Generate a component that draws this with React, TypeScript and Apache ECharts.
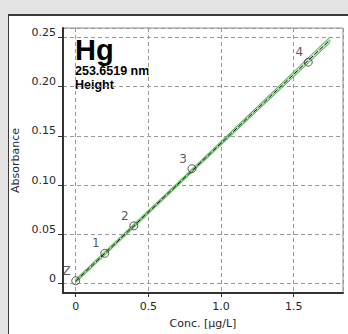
import React, { useEffect, useRef } from "react";
import * as echarts from "echarts";

const concentrations = [0, 0.2, 0.4, 0.8, 1.6];
const absorbances = [0.0027, 0.0306, 0.0585, 0.1166, 0.2248];
const pointLabels = ["Z", "1", "2", "3", "4"];

const fitX = [0, 1.75];
const fitY = [0.0025, 0.2475];

const bandX = [0, 0.85, 1.75];
const upperY = [0.0040, 0.1228, 0.2505];
const lowerY = [0.0010, 0.1203, 0.2447];

const xTicks = [0, 0.5, 1.0, 1.5];
const yTicks = [0, 0.05, 0.1, 0.15, 0.2, 0.25];

const element = "Hg";
const wavelength = "253.6519 nm";
const mode = "Height";

const FONT = "'DejaVu Sans', Verdana, sans-serif";

export default function App() {
  const ref = useRef<HTMLDivElement>(null);

  useEffect(() => {
    if (!ref.current) return;
    const chart = echarts.init(ref.current, undefined, { renderer: "svg" });
    const pts = concentrations.map((c, i) => ({ value: [c, absorbances[i]], name: pointLabels[i] }));
    const fit = fitX.map((x, i) => [x, fitY[i]]);
    const upper = bandX.map((x, i) => [x, upperY[i]]);
    const lower = bandX.map((x, i) => [x, lowerY[i]]);

    chart.setOption({
      animation: false,
      backgroundColor: "transparent",
      grid: {
        left: 63,
        top: 28,
        right: 5,
        bottom: 39,
        show: true,
        borderColor: "#8c8c8c",
        borderWidth: 1,
        backgroundColor: "transparent",
      },
      xAxis: {
        type: "value",
        min: -0.0874,
        max: 1.839,
        splitNumber: 4,
        name: "Conc. [µg/L]",
        nameLocation: "middle",
        nameGap: 25,
        nameTextStyle: { fontFamily: FONT, fontSize: 11, color: "#262630" },
        axisLine: { show: true, onZero: false, lineStyle: { color: "#333", width: 2 } },
        axisTick: { show: true, length: 4, lineStyle: { color: "#333" } },
        axisLabel: {
          showMinLabel: false,
          showMaxLabel: false,
          margin: 8,
          fontFamily: FONT,
          fontSize: 11,
          color: "#262630",
          formatter: (v: number) => {
            const t = xTicks.find((k) => Math.abs(k - v) < 1e-9);
            if (t === undefined) return "";
            return t === 0 ? "0" : t.toFixed(1);
          },
        },
        splitLine: { show: true, lineStyle: { color: "#9a9a9a", type: [4, 3], width: 1 } },
      },
      yAxis: {
        type: "value",
        min: -0.0097,
        max: 0.2595,
        splitNumber: 5,
        name: "Absorbance",
        nameLocation: "middle",
        nameGap: 38,
        nameTextStyle: { fontFamily: FONT, fontSize: 11, color: "#262630" },
        axisLine: { show: true, onZero: false, lineStyle: { color: "#333", width: 2 } },
        axisTick: { show: true, length: 5, lineStyle: { color: "#333" } },
        axisLabel: {
          showMinLabel: false,
          showMaxLabel: false,
          margin: 7,
          fontFamily: FONT,
          fontSize: 11,
          color: "#262630",
          verticalAlign: "bottom",
          lineHeight: 10,
          formatter: (v: number) => {
            const t = yTicks.find((k) => Math.abs(k - v) < 1e-9);
            if (t === undefined) return "";
            return t === 0 ? "0" : t.toFixed(2);
          },
        },
        splitLine: { show: true, lineStyle: { color: "#9a9a9a", type: [4, 3], width: 1 } },
      },
      graphic: [
        {
          type: "text",
          x: 75,
          y: 49.5,
          style: {
            text: element,
            fontFamily: "'Liberation Sans Narrow', 'Liberation Sans', Arial, sans-serif",
            fontWeight: "bold",
            fontSize: 29,
            fill: "#000",
            verticalAlign: "middle",
          },
        },
        {
          type: "text",
          x: 75,
          y: 71,
          style: {
            text: wavelength,
            fontFamily: "'Liberation Sans', Arial, sans-serif",
            fontWeight: "bold",
            fontSize: 12.5,
            fill: "#000",
            verticalAlign: "middle",
          },
        },
        {
          type: "text",
          x: 75,
          y: 85,
          style: {
            text: mode,
            fontFamily: "'Liberation Sans', Arial, sans-serif",
            fontWeight: "bold",
            fontSize: 12.5,
            fill: "#000",
            verticalAlign: "middle",
          },
        },
      ],
      series: [
        {
          type: "line",
          data: fit,
          symbol: "none",
          lineStyle: { color: "rgba(130,205,130,0.5)", width: 4 },
          z: 2,
        },
        {
          type: "line",
          data: upper,
          symbol: "none",
          lineStyle: { color: "#2f9a2f", width: 0.8 },
          z: 3,
        },
        {
          type: "line",
          data: lower,
          symbol: "none",
          lineStyle: { color: "#2f9a2f", width: 0.8 },
          z: 3,
        },
        {
          type: "line",
          data: fit,
          symbol: "none",
          lineStyle: { color: "#111", width: 1, type: [5, 2] },
          z: 4,
        },
        {
          type: "scatter",
          data: pts,
          symbol: "circle",
          symbolSize: 8,
          itemStyle: { color: "rgba(0,0,0,0)", borderColor: "#333", borderWidth: 1 },
          label: {
            show: true,
            position: "inside",
            offset: [-9, -10],
            formatter: (p: any) => p.name,
            fontFamily: FONT,
            fontSize: 12,
            color: "#2c2c3c",
          },
          z: 5,
        },
      ],
    });
    return () => chart.dispose();
  }, []);

  return (
    <div style={{ position: "fixed", left: 0, top: 0, width: 348, height: 334, background: "#e4e4e4", overflow: "hidden" }}>
      <div
        style={{
          position: "absolute",
          left: 8,
          top: 14,
          width: 360,
          height: 340,
          background: "#fff",
          borderLeft: "1px solid #3a3a3a",
          borderTop: "2px solid #3a3a3a",
        }}
      />
      <div ref={ref} style={{ position: "absolute", left: 0, top: 0, width: 348, height: 334 }} />
    </div>
  );
}
